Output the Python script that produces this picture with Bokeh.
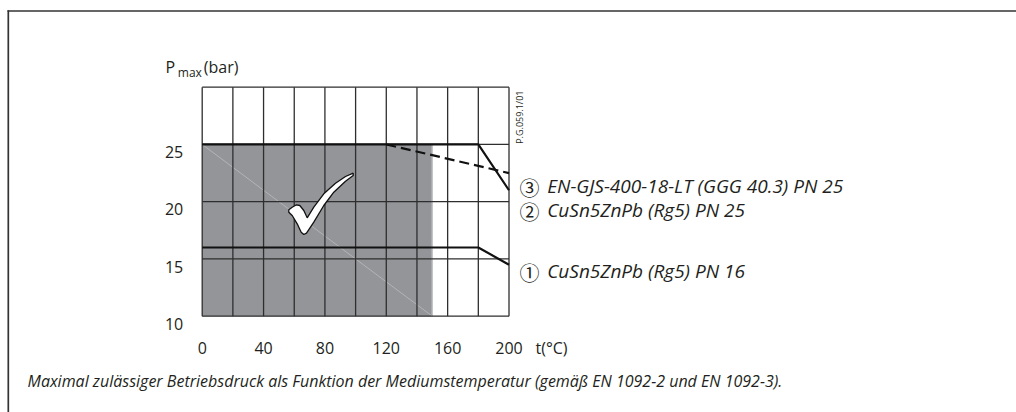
import math
from bokeh.plotting import figure
from bokeh.models import Range1d
from bokeh.core.properties import value
from bokeh.embed import file_html
from bokeh.resources import INLINE

# ---------------- data ----------------
temp_ticks = [0, 40, 80, 120, 160, 200]
temp_grid = [0, 20, 40, 60, 80, 100, 120, 140, 160, 180, 200]
p_ticks = [10, 15, 20, 25]
p_grid = [10, 15, 20, 25, 30]

t_rg5 = [0, 180, 200]
p_pn16 = [16, 16, 14.5]
p_pn25 = [25, 25, 21]
t_ggg = [120, 200]
p_ggg = [25, 22.5]

shade_t = [0, 150]
shade_p = [10, 25]

circled = ["③", "②", "①"]
series_names = ["EN-GJS-400-18-LT (GGG 40.3) PN 25",
                "CuSn5ZnPb (Rg5) PN 25",
                "CuSn5ZnPb (Rg5) PN 16"]
caption = ("Maximal zulässiger Betriebsdruck als Funktion der Mediumstemperatur "
           "(gemäß EN 1092-2 und EN 1092-3).")
drawing_no = "P.G.059.1/01"
x_unit = "t(°C)"

# ---------------- layout (pixels) ----------------
W, H = 1016, 412
X0_PX, X1_PX = 201.7, 508.5      # t = 0 and t = 200
Y10_PX, Y30_PX = 315.7, 86.7     # p = 10 and p = 30
sx = (X1_PX - X0_PX) / 200.0
sy = (Y10_PX - Y30_PX) / 20.0


def dx(px):
    return (px - X0_PX) / sx


def dy(py):
    return 10 + (Y10_PX - py) / sy


FONT = "Open Sans"
TXT = "#231f20"
GRID = "#2e2e2e"
SHADE = "#939598"
INK = "#111111"

p = figure(width=W, height=H,
           x_range=Range1d(dx(0), dx(W)), y_range=Range1d(dy(H), dy(0)),
           x_axis_location=None, y_axis_location=None,
           min_border=0, min_border_left=0, min_border_right=0,
           min_border_top=0, min_border_bottom=0,
           output_backend="svg", toolbar_location=None)
p.grid.visible = False
p.outline_line_color = None
p.background_fill_color = "white"
p.border_fill_color = "white"

# page frame (top and left rule)
p.segment(x0=[dx(7), dx(7.8)], y0=[dy(10.5), dy(9.7)],
          x1=[dx(W + 2), dx(7.8)], y1=[dy(10.5), dy(H + 2)],
          line_color="#333333", line_width=1.7)

# shaded permitted area
p.quad(left=shade_t[0], right=shade_t[1], bottom=shade_p[0], top=shade_p[1],
       fill_color=SHADE, line_color=None)
p.line([shade_t[1], shade_t[1]], shade_p, line_color="#c4c5c7", line_width=1.5)
p.line(shade_t, [shade_p[1], shade_p[0]], line_color="#c9cacc", line_width=0.6)

# grid
t_lo, t_hi = temp_grid[0], temp_grid[-1]
p_lo, p_hi = p_grid[0], p_grid[-1]
p.segment(x0=temp_grid, y0=[p_lo] * len(temp_grid),
          x1=temp_grid, y1=[p_hi] * len(temp_grid),
          line_color=GRID, line_width=1.3)
p.segment(x0=[t_lo] * len(p_grid), y0=p_grid,
          x1=[t_hi] * len(p_grid), y1=p_grid,
          line_color=GRID, line_width=1.3)

# series
p.line(t_rg5, p_pn16, line_color=INK, line_width=2.2)
p.line(t_rg5, p_pn25, line_color=INK, line_width=2.2)
p.line(t_ggg, p_ggg, line_color=INK, line_width=2.2, line_dash="10 5")

# check mark (decoration): pixel offsets around its centre
check_ox = [-31.7, -28.3, -24, -20.7, -16.7, -13.3, -6.7, 3.3, 15, 25, 32.7,
            32.7, 25, 13.3, 3.3, -6.7, -14, -16.7, -19.3, -23.3, -28.3, -31.7]
check_oy = [6.3, 3.7, 1.3, 2, 7, 14.3, 3.7, -9.7, -20.3, -27, -30.3,
            -28, -22.3, -11.3, 2, 18.7, 29.7, 31, 28.7, 20.3, 12, 8.7]
CX, CY = 320, 203
p.patch([dx(CX + o) for o in check_ox], [dy(CY + o) for o in check_oy],
        fill_color="white", line_color=INK, line_width=1.3)


# ---------------- texts ----------------
def txt(x, y, text, size="16px", style="normal", align="left",
        baseline="alphabetic", angle=0.0, font=FONT, x_off=0, y_off=0):
    if isinstance(text, str):
        text = [text]
        x = [x]
        y = [y]
    p.text(x=x, y=y, text=text, text_font=value(font),
           text_font_size=value(size), text_font_style=style,
           text_color=TXT, text_align=align, text_baseline=baseline,
           angle=angle, x_offset=x_off, y_offset=y_off)


# tick labels
txt(temp_ticks, [p_lo] * len(temp_ticks), [str(t) for t in temp_ticks],
    align="center", y_off=31.6)
txt([t_lo] * len(p_ticks), p_ticks, [str(v) for v in p_ticks],
    align="right", x_off=-19, y_off=7.7)

# y title  P_max(bar)
txt(dx(165), dy(66.7), "P")
txt(dx(177.3), dy(71.7), "max", size="12px")
txt(dx(203.3), dy(66.7), "(bar)")

# x unit
txt(dx(535), dy(347.3), x_unit)

# drawing number (vertical)
txt(dx(519.3), dy(143.3), drawing_no, size="9px", baseline="middle",
    angle=math.pi / 2)

# series labels
label_base = [185.7, 209.3, 270.0]
for c, name, b in zip(circled, series_names, label_base):
    txt(dx(519), dy(b + 1.5), c, size="20px", font="Noto Sans CJK JP")
    txt(dx(546.7), dy(b), name, size="19px", style="italic")

# caption
txt(dx(27), dy(380.7), caption, size="16px", style="italic")

open("out.html", "w").write(file_html(p, INLINE))
